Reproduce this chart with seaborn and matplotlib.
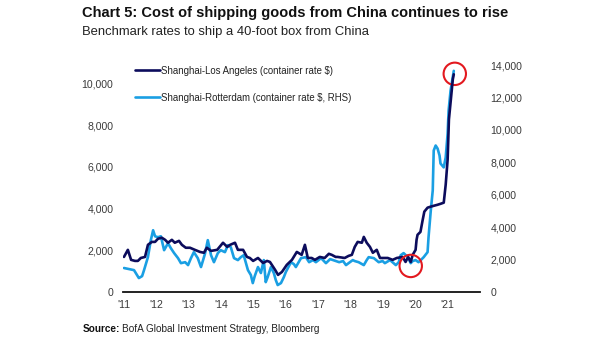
import numpy as np
import pandas as pd
import matplotlib
matplotlib.use("Agg")
import matplotlib.pyplot as plt
import matplotlib.transforms as mtransforms
import seaborn as sns

# ---- data ----
la_dates = [2011.00, 2011.12, 2011.22, 2011.34, 2011.43, 2011.52, 2011.65, 2011.74, 2011.86, 2011.96,
            2012.05, 2012.17, 2012.27, 2012.36, 2012.48, 2012.57, 2012.70, 2012.79, 2012.91, 2013.04,
            2013.19, 2013.35, 2013.47, 2013.56, 2013.69, 2013.88, 2014.06, 2014.19, 2014.28, 2014.43,
            2014.52, 2014.68, 2014.80, 2014.89, 2014.99, 2015.14, 2015.30, 2015.42, 2015.51, 2015.67,
            2015.76, 2015.88, 2016.03, 2016.19, 2016.34, 2016.49, 2016.59, 2016.68, 2016.80, 2016.90,
            2017.05, 2017.20, 2017.33, 2017.42, 2017.54, 2017.60, 2017.82, 2017.94, 2018.04, 2018.13,
            2018.22, 2018.35, 2018.41, 2018.50, 2018.60, 2018.69, 2018.81, 2018.91, 2019.02, 2019.15,
            2019.30, 2019.43, 2019.61, 2019.70, 2019.78, 2019.86, 2019.92, 2020.01, 2020.04, 2020.07,
            2020.16, 2020.23, 2020.28, 2020.38, 2020.48, 2020.57, 2020.69, 2020.79, 2020.88, 2020.94,
            2021.00, 2021.04, 2021.10, 2021.16, 2021.19]
la_rate = [1680, 2020, 1540, 1490, 1490, 1630, 1680, 2260, 2400, 2400,
           2550, 2600, 2500, 2360, 2500, 2360, 2450, 2260, 2120, 2120,
           2020, 1920, 1880, 2120, 1970, 2020, 2360, 2160, 2260, 2360,
           2020, 2020, 1680, 1630, 1490, 1630, 1390, 1490, 1440, 1060,
           820, 960, 1300, 1540, 1920, 1780, 2260, 1630, 1630, 1540,
           1680, 1630, 1830, 1780, 1680, 1680, 1630, 1730, 1780, 2160,
           2400, 2360, 2640, 2360, 2160, 1880, 2020, 1630, 1630, 1630,
           1540, 1630, 1680, 1440, 1680, 1440, 1780, 2020, 2500, 2740,
           2880, 3460, 3850, 4040, 4090, 4130, 4180, 4230, 4280, 5140,
           6350, 8270, 9230, 10190, 10430]

rot_dates = [2011.00, 2011.31, 2011.46, 2011.56, 2011.62, 2011.74, 2011.83, 2011.90, 2011.96, 2012.05,
             2012.14, 2012.24, 2012.36, 2012.45, 2012.55, 2012.67, 2012.76, 2012.89, 2012.98, 2013.07,
             2013.16, 2013.28, 2013.38, 2013.50, 2013.59, 2013.69, 2013.78, 2013.90, 2013.99, 2014.12,
             2014.21, 2014.30, 2014.40, 2014.52, 2014.61, 2014.70, 2014.83, 2014.92, 2014.98, 2015.04,
             2015.14, 2015.23, 2015.32, 2015.38, 2015.44, 2015.54, 2015.63, 2015.69, 2015.75, 2015.85,
             2015.94, 2016.00, 2016.16, 2016.25, 2016.31, 2016.47, 2016.62, 2016.72, 2016.84, 2016.93,
             2017.09, 2017.24, 2017.37, 2017.46, 2017.65, 2017.77, 2017.86, 2017.98, 2018.07, 2018.13,
             2018.25, 2018.41, 2018.50, 2018.56, 2018.72, 2018.87, 2018.99, 2019.06, 2019.22, 2019.40,
             2019.49, 2019.55, 2019.64, 2019.77, 2019.86, 2019.92, 2020.01, 2020.10, 2020.17, 2020.26,
             2020.38, 2020.41, 2020.48, 2020.54, 2020.57, 2020.63, 2020.69, 2020.75, 2020.78, 2020.88,
             2020.94, 2021.00, 2021.03, 2021.09, 2021.15, 2021.19]
rot_rate = [1480, 1350, 860, 980, 1350, 2150, 3200, 3810, 3440, 3380,
            3440, 2580, 3010, 2700, 2400, 2090, 1780, 1840, 1660, 2090,
            2460, 2090, 1540, 2340, 3200, 2270, 1840, 2400, 2580, 2460,
            2890, 2770, 2090, 1970, 2150, 2270, 1350, 1050, 550, 980,
            1540, 1170, 1970, 610, 920, 1540, 1170, 740, 430, 550,
            920, 1230, 1840, 1720, 1540, 2090, 2150, 1840, 1970, 1840,
            2090, 1780, 2030, 1970, 1840, 1910, 1660, 1840, 1970, 1910,
            1840, 1660, 1970, 2150, 2090, 1840, 1910, 1780, 1970, 1660,
            1840, 2270, 2400, 2150, 1780, 1910, 1970, 1840, 1970, 2150,
            2460, 3380, 5040, 6270, 8730, 9040, 8850, 8420, 7930, 7690,
            8300, 9780, 11190, 12420, 13160, 13650]

year_ticks = [2011, 2012, 2013, 2014, 2015, 2016, 2017, 2018, 2019, 2020, 2021]
year_labels = ["'11", "'12", "'13", "'14", "'15", "'16", "'17", "'18", "'19", "'20", "'21"]
left_ticks = [0, 2000, 4000, 6000, 8000, 10000]
right_ticks = [0, 2000, 4000, 6000, 8000, 10000, 12000, 14000]

la_label = "Shanghai-Los Angeles (container rate $)"
rot_label = "Shanghai-Rotterdam (container rate $, RHS)"
title = "Chart 5: Cost of shipping goods from China continues to rise"
subtitle = "Benchmark rates to ship a 40-foot box from China"
source_head = "Source:"
source_body = "BofA Global Investment Strategy, Bloomberg"

# ---- style ----
sns.set_theme(style="white")
FONT = ["Liberation Sans", "DejaVu Sans"]
plt.rcParams["font.family"] = FONT
plt.rcParams["axes.unicode_minus"] = False

NAVY = "#0c0c5c"
SKY = "#1a9fe3"
RED = "#e3191f"
GREY = "#3a3a3a"

df_la = pd.DataFrame({"date": la_dates, "rate": la_rate})
df_rot = pd.DataFrame({"date": rot_dates, "rate": rot_rate})

fig = plt.figure(figsize=(6.05, 3.41), dpi=100)
ax = fig.add_axes([123 / 605, 1 - 292 / 341, 357 / 605, 229.6 / 341])
ax2 = ax.twinx()

sns.lineplot(data=df_rot, x="date", y="rate", ax=ax2, color=SKY, lw=1.9, label=rot_label, legend=False)
sns.lineplot(data=df_la, x="date", y="rate", ax=ax, color=NAVY, lw=1.9, label=la_label, legend=False)
ax.set_zorder(ax2.get_zorder() + 1)
ax.patch.set_visible(False)

ax.set_xlim(2010.97, 2022.0)
ax.set_ylim(0, 11000)
ax2.set_ylim(0, 14170)

ax.set_xticks(year_ticks)
ax.set_xticklabels(year_labels)
ax.set_yticks(left_ticks)
ax.set_yticklabels([f"{v:,}" for v in left_ticks])
ax2.set_yticks(right_ticks)
ax2.set_yticklabels([f"{v:,}" for v in right_ticks])
ax.set_xlabel("")
ax.set_ylabel("")
ax2.set_ylabel("")

for a in (ax, ax2):
    for s in ("top", "right", "left"):
        a.spines[s].set_visible(False)
    a.grid(False)
ax2.spines["bottom"].set_visible(False)
ax.spines["bottom"].set_color("#111111")
ax.spines["bottom"].set_linewidth(1.3)

ax.tick_params(axis="x", length=0, pad=6, labelsize=7.6, labelcolor=GREY)
ax.tick_params(axis="y", length=0, pad=7, labelsize=7.6, labelcolor=GREY)
ax2.tick_params(axis="y", length=0, pad=7.5, labelsize=7.6, labelcolor=GREY)

# legend
h1, l1 = ax.get_legend_handles_labels()
h2, l2 = ax2.get_legend_handles_labels()
leg = ax.legend(h1 + h2, l1 + l2, loc="upper left", bbox_to_anchor=(0.034, 0.985),
                frameon=False, fontsize=6.95, handlelength=2.6, handletextpad=0.05,
                labelspacing=1.75, borderpad=0, borderaxespad=0)
for t in leg.get_texts():
    t.set_color("#222222")

# highlight circles tied to data points
i1 = la_dates.index(2019.86)
off = mtransforms.ScaledTranslation(0, -4 / 100, fig.dpi_scale_trans)
ax.scatter([la_dates[i1]], [la_rate[i1]], s=260, facecolors="none", edgecolors=RED,
           linewidths=1.5, zorder=10, transform=ax.transData + off, clip_on=False)
ax2.scatter([rot_dates[-1]], [rot_rate[-1]], s=260, facecolors="none", edgecolors=RED,
            linewidths=1.5, zorder=10, clip_on=False,
            transform=ax2.transData + mtransforms.ScaledTranslation(1 / 100, -3 / 100, fig.dpi_scale_trans))

# titles & source
fig.text(82 / 605, 1 - 12.5 / 341, title, fontsize=10.5, fontweight="bold", color="#111111",
         va="center", ha="left")
fig.text(82 / 605, 1 - 31.5 / 341, subtitle, fontsize=9.4, color="#222222", va="center", ha="left")
fig.text(83 / 605, 1 - 329 / 341, source_head, fontsize=7.2, fontweight="bold", color="#111111",
         va="center", ha="left")
fig.text(122 / 605, 1 - 329 / 341, source_body, fontsize=7.2,
         color="#222222", va="center", ha="left")

fig.savefig("out.png", dpi=100)
